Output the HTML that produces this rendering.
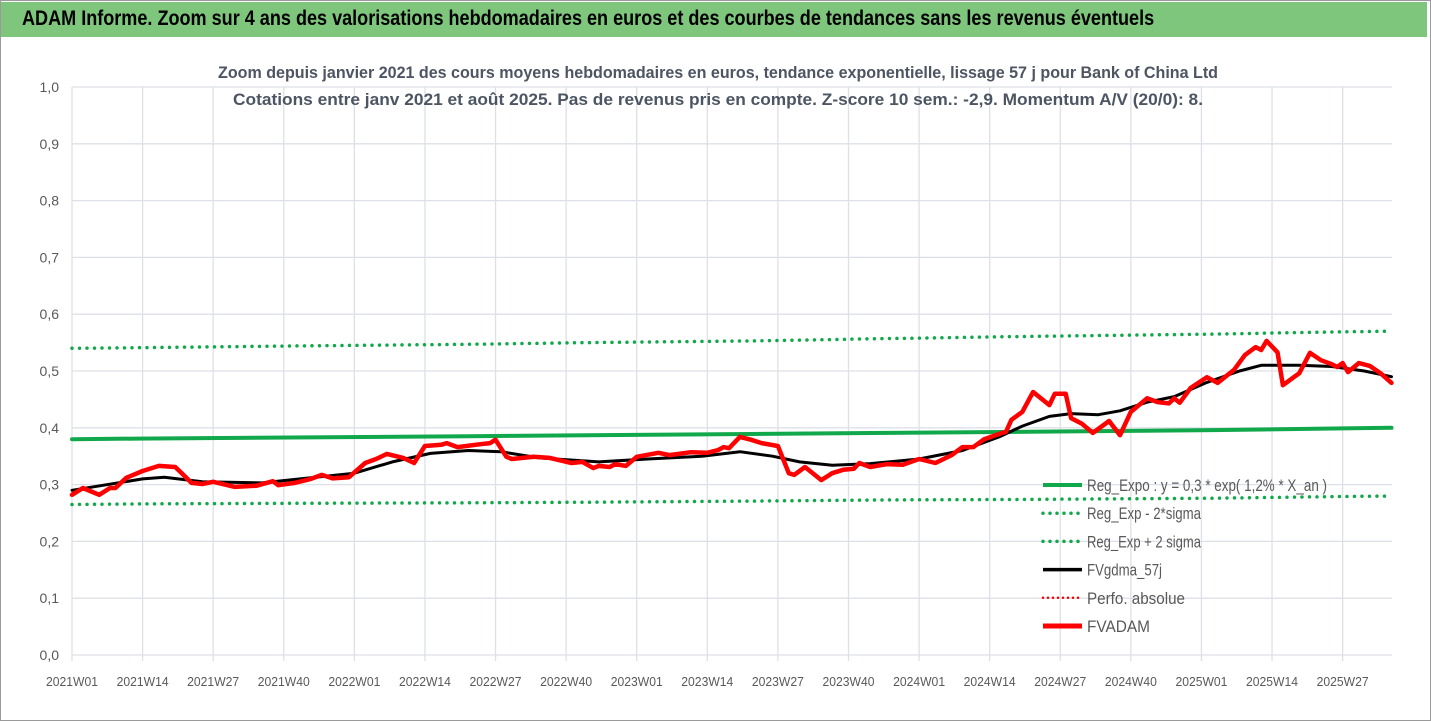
<!DOCTYPE html>
<html><head><meta charset="utf-8">
<style>
body{margin:0;width:1431px;height:721px;background:#fff;overflow:hidden;font-family:"Liberation Sans",sans-serif;}
#wrap{position:absolute;left:0;top:0;width:1429px;height:719px;border:1px solid #9a9a9a;}
#bar{position:absolute;left:1px;top:2px;width:1426px;height:35px;background:#7fc67d;}
#bar span{position:absolute;left:21px;top:5px;font-size:21px;font-weight:bold;color:#000;transform:scaleX(0.86);transform-origin:left;white-space:nowrap;}
svg{position:absolute;left:0;top:0;}
</style></head><body>
<div id="wrap"></div>
<div id="bar"><span>ADAM Informe. Zoom sur 4 ans des valorisations hebdomadaires en euros et des courbes de tendances sans les revenus éventuels</span></div>
<svg id="chart" width="1431" height="721"></svg>
<script>
const yTicks=["0,0","0,1","0,2","0,3","0,4","0,5","0,6","0,7","0,8","0,9","1,0"];
const xLabels=["2021W01","2021W14","2021W27","2021W40","2022W01","2022W14","2022W27","2022W40","2023W01","2023W14","2023W27","2023W40","2024W01","2024W14","2024W27","2024W40","2025W01","2025W14","2025W27"];
const redWeeks=[0,2,5,7,8,10,13,16,19,20,22,24,26,30,34,37,38,41,44,46,48,51,54,56,58,61,63,65,68,69,71,75,77,78,80,81,85,88,92,94,96,97,99,100,102,104,108,110,114,117,119,120,121,123,125,127,130,132,133,135,138,140,142,144,145,147,150,153,156,159,162,164,166,168,171,172,173,175,177,180,181,183,184,186,188,191,193,195,198,200,202,203,204,206,209,211,214,216,218,219,220,222,223,225,226,228,230,232,233,234,235,237,239,241,243];
const redValues=[.282,.294,.282,.294,.294,.312,.324,.333,.331,.322,.303,.301,.305,.296,.298,.306,.299,.303,.31,.317,.311,.313,.338,.345,.354,.347,.338,.368,.37,.373,.366,.371,.373,.379,.349,.345,.349,.347,.338,.34,.329,.333,.331,.336,.333,.349,.356,.352,.357,.356,.361,.366,.364,.384,.379,.373,.368,.32,.317,.331,.308,.32,.326,.328,.338,.331,.336,.335,.345,.338,.352,.366,.366,.38,.39,.393,.414,.428,.463,.44,.46,.46,.417,.407,.391,.412,.387,.428,.452,.445,.443,.452,.444,.47,.489,.479,.502,.528,.542,.537,.553,.533,.475,.489,.496,.532,.519,.512,.507,.514,.498,.514,.509,.496,.479];
const blackWeeks=[0,13,17,24,35,42,52,59,66,73,79,86,97,106,116,123,129,134,140,147,156,164,171,175,180,184,189,193,198,203,209,215,219,226,232,238,243];
const blackValues=[.29,.31,.313,.305,.303,.31,.32,.34,.355,.36,.358,.347,.34,.345,.35,.358,.35,.34,.334,.337,.345,.36,.385,.403,.42,.425,.423,.43,.445,.455,.48,.5,.51,.51,.508,.5,.49];
const trendWeeks=[0,12,40,73,95,125,150,176,210,234,243];
const trendValues=[.38,.381,.383,.385,.387,.389,.391,.393,.396,.399,.40];
const lowValues=[.265,.266,.267,.268,.269,.271,.273,.274,.276,.279,.28];
const highValues=[.54,.541,.544,.547,.550,.553,.557,.561,.565,.569,.57];

const NS="http://www.w3.org/2000/svg";
const svg=document.getElementById('chart');
const X0=72,PX_W=5.43,Y0=655,PX_V=568,XR=1392;
const xs=w=>X0+w*PX_W;
const ys=v=>Y0-v*PX_V;
function mk(t,a){const e=document.createElementNS(NS,t);for(const k in a)e.setAttribute(k,a[k]);svg.appendChild(e);return e;}

yTicks.forEach((t,i)=>{
  const l=mk('line',{x1:X0,x2:XR,y1:ys(i/10),y2:ys(i/10),stroke:'#dde0e8','stroke-width':1.3});
  
  
  const tx=mk('text',{x:59,y:ys(i/10)+5,'text-anchor':'end','font-size':14,fill:'#595959'});
  tx.textContent=t;
  
  
});
xLabels.forEach((t,i)=>{
  const x=xs(i*13);
  const l=mk('line',{x1:x,x2:x,y1:ys(1),y2:Y0+6,stroke:'#dde0e8','stroke-width':1.3});
  
  
  const tx=mk('text',{x:x,y:686,'text-anchor':'middle','font-size':13,fill:'#595959',textLength:52,lengthAdjust:'spacingAndGlyphs'});
  tx.textContent=t;
  
  
});
function path(wk,vals,attrs,name){
  const d=wk.map((w,i)=>(i?'L':'M')+xs(w).toFixed(1)+','+ys(vals[i]).toFixed(1)).join(' ');
  const p=mk('path',Object.assign({d:d,fill:'none','stroke-linejoin':'round','stroke-linecap':'round'},attrs));
  
  
}
path(trendWeeks,highValues,{stroke:'#10a84a','stroke-width':3.5,'stroke-dasharray':'0 7.5'},'upper-2sigma-line');
path(trendWeeks,lowValues,{stroke:'#10a84a','stroke-width':3.5,'stroke-dasharray':'0 7.5'},'lower-2sigma-line');
path(trendWeeks,trendValues,{stroke:'#10a84a','stroke-width':4},'exp-trend-line');
path(blackWeeks,blackValues,{stroke:'#000','stroke-width':3},'fvgdma-57j-line');
path(redWeeks,redValues,{stroke:'#f00','stroke-width':4.5},'fvadam-line');

const subs=["Zoom depuis janvier 2021 des cours moyens hebdomadaires en euros, tendance exponentielle, lissage 57 j pour Bank of China Ltd","Cotations entre janv 2021 et août 2025.  Pas de revenus pris en compte. Z-score 10 sem.: -2,9. Momentum A/V (20/0): 8."];
const subLen=[1000,970];
subs.forEach((s,i)=>{
  const t=mk('text',{x:718,y:78+i*27,'text-anchor':'middle','font-size':17,'font-weight':'bold',fill:'#4d5563',textLength:subLen[i],lengthAdjust:'spacingAndGlyphs'});
  t.textContent=s;
  
  
});

const legNames=["Reg_Expo : y = 0,3 * exp( 1,2% *  X_an )","Reg_Exp - 2*sigma","Reg_Exp + 2 sigma","FVgdma_57j","Perfo. absolue","FVADAM"];
const legStyle=[{stroke:'#10a84a','stroke-width':4},{stroke:'#10a84a','stroke-width':3.5,'stroke-dasharray':'0 7','stroke-linecap':'round'},{stroke:'#10a84a','stroke-width':3.5,'stroke-dasharray':'0 7','stroke-linecap':'round'},{stroke:'#000','stroke-width':3.5},{stroke:'#e00','stroke-width':2.5,'stroke-dasharray':'0 5','stroke-linecap':'round'},{stroke:'#f00','stroke-width':5}];
legNames.forEach((n,i)=>{
  const y=485+i*28.2;
  const l=mk('line',Object.assign({x1:1043,x2:1082,y1:y,y2:y},legStyle[i]));
  
  
  const t=mk('text',{x:1087,y:y+6,'font-size':17,fill:'#595959'});
  t.textContent=n;
  
  
  t.setAttribute('textLength',[240,114,114,75,98,63][i]);
  t.setAttribute('lengthAdjust','spacingAndGlyphs');
});
</script>
</body></html>
